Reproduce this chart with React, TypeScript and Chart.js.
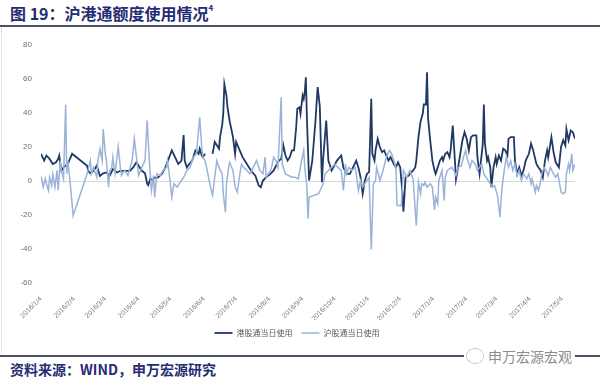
import React, { useEffect, useRef } from 'react';
import { Chart, registerables } from 'chart.js';

Chart.register(...registerables);

// x axis: days since 2016/1/4
const tickDays = [0, 31, 60, 91, 121, 152, 182, 213, 244, 274, 305, 335, 366, 397, 425, 456, 486];
const tickLabels = [
  '2016/1/4', '2016/2/4', '2016/3/4', '2016/4/4', '2016/5/4', '2016/6/4', '2016/7/4', '2016/8/4',
  '2016/9/4', '2016/10/4', '2016/11/4', '2016/12/4', '2017/1/4', '2017/2/4', '2017/3/4', '2017/4/4', '2017/5/4',
];
const lastDay = 498;

const hkLabel = '港股通当日使用';
const shLabel = '沪股通当日使用';

const hkDays = [
  0, 3, 5, 8, 11, 14, 16, 17, 18, 19,
  21, 25, 29, 43, 44, 46, 49, 52, 55, 58,
  61, 64, 67, 71, 74, 77, 80, 83, 86, 89,
  91, 94, 97, 99, 100, 102, 104, 106, 109, 113,
  116, 119, 122, 125, 128, 131, 133, 134, 136, 137,
  141, 144, 147, 148, 150, 151, 153, 156, 160, 162,
  164, 166, 167, 169, 170, 171, 173, 174, 176, 179,
  181, 182, 184, 186, 188, 190, 193, 196, 200, 203,
  205, 207, 210, 214, 217, 220, 222, 224, 226, 228,
  230, 232, 234, 236, 238, 239, 241, 242, 244, 245,
  246, 247, 248, 250, 253, 256, 258, 260, 262, 263,
  266, 268, 271, 276, 280, 282, 285, 288, 291, 294,
  296, 298, 300, 302, 304, 306, 308, 309, 311, 312,
  314, 316, 318, 320, 322, 324, 326, 329, 331, 333,
  335, 337, 338, 340, 343, 344, 347, 349, 350, 352,
  354, 356, 357, 359, 360, 361, 363, 365, 367, 368,
  370, 372, 374, 375, 377, 379, 381, 382, 384, 386,
  387, 389, 391, 393, 395, 397, 399, 401, 403, 406,
  407, 409, 411, 412, 413, 414, 416, 417, 419, 420,
  422, 424, 425, 427, 429, 431, 433, 435, 436, 438,
  441, 442, 444, 446, 448, 450, 452, 455, 457, 459,
  462, 464, 466, 468, 470, 472, 473, 475, 476, 478,
  480, 483, 485, 487, 489, 490, 492, 494, 496, 498,
];
const hkValues = [
  16, 12, 15, 13, 10, 11, 13, 15, 10, 6,
  8, 10, 16, 9, 6, 4.5, 6, 9, 3, 4.5,
  5, 3, 7, 5, 6, 6, 6, 6, 8, 11,
  9, 6, 4.5, -1.5, -2.5, 1.5, 0.5, 2, 2, 4.5,
  8, 13, 18, 14, 10, 12, 27, 12, 8, 9,
  12, 18, 16, 19, 15, 14, 16, null, 16, 23,
  21, 19, 26, 33, 40, 57, 50, 43, 35, 26,
  16, 23, 20, 17, 14, 12, 9, 6, 3, -2.6,
  -3.6, 0.3, 2.2, 4.2, 6.2, 10, 12, 13, 21, 15,
  12, 14, 18, 18, 31.6, 42.5, 43.4, 39.5, 50.3, 48.3,
  52.2, 61, 36.6, 0.3, 12, 35.6, 55.2, 44, -0.7, 12,
  35.6, 12, 6.2, 12, 15, 8, 4.2, 4.2, 8, 12,
  8, 2.2, -7.5, 0.3, 4.2, 5.2, 48.3, 16, 12, 18,
  24.8, 20, 17, 18, 15, 12, 14, 10, 8, 11,
  8, -6.5, -18, 2.2, 3.2, 4.2, 6.2, 8, 12, 25.8,
  35, 39.5, 45, 45, 64, 36.6, 23.8, 12, 6.2, 4.2,
  8, 12, 14, 12, 16, 17, 14, 18, 32.6, 12,
  1, 8, 16, 23.8, 28.7, 24.8, 18, 25.8, 26.8, 26.8,
  14, 4.2, 16, 22, 45, 22, 12, 14, 8, -3.6,
  8, 14, 10, 15, 12, 19, 18, 15, 24.8, 25.8,
  25.8, 12, 4.2, 8, 3.2, 6.2, 12, 16, 22, 18,
  10, 8, 6.2, 2.2, 12, 18, 14, 22, 25.8, 17,
  11, 8, 20, 24, 21, 30.6, 24, 29.7, 28.7, 24.8,
];

const shDays = [
  0, 2, 4, 5, 7, 8, 10, 11, 13, 15,
  16, 18, 19, 21, 23, 24, 25, 27, 30, 43,
  46, 47, 49, 52, 53, 55, 57, 58, 60, 61,
  63, 64, 66, 67, 69, 72, 74, 75, 78, 81,
  85, 87, 89, 91, 94, 97, 99, 101, 103, 105,
  106, 108, 111, 114, 117, 118, 120, 122, 124, 127,
  130, 133, 136, 139, 142, 145, 148, 150, 151, 153,
  155, 158, 160, 162, 164, 166, 169, 170, 172, 173,
  175, 176, 179, 181, 183, 186, 187, 189, 192, 195,
  198, 201, 204, 207, 209, 210, 214, 215, 217, 219,
  221, 224, 225, 228, 231, 234, 237, 240, 243, 245,
  246, 248, 249, 250, 259, 263, 265, 268, 271, 274,
  277, 280, 282, 284, 285, 287, 290, 293, 294, 296,
  298, 300, 302, 304, 306, 308, 310, 312, 313, 315,
  316, 319, 322, 325, 327, 329, 331, 332, 336, 338,
  341, 344, 347, 350, 352, 354, 355, 357, 358, 360,
  363, 365, 367, 368, 370, 371, 374, 376, 377, 379,
  381, 383, 385, 387, 389, 392, 394, 396, 398, 400,
  402, 405, 407, 409, 411, 413, 415, 417, 419, 421,
  423, 426, 428, 429, 430, 432, 434, 436, 438, 440,
  442, 444, 446, 448, 450, 453, 455, 457, 458, 461,
  462, 464, 466, 467, 469, 471, 473, 475, 478, 480,
  482, 485, 487, 489, 490, 492, 493, 495, 496, 498,
];
const shValues = [
  3.2, -3.6, 1.3, -1.6, -5.6, 2.2, -2.6, 4, -3.6, 6.2,
  -5.6, 12, 6.2, 1.3, 44.8, 4.2, 12, 0.3, -20.3, 4.2,
  12, 4.2, 8, 2.2, 12, 18.9, 12, 30.6, 16, 12,
  -3.6, 6.2, 8, 14, 4.2, 20, 8, 3.2, 6.2, 3.2,
  12, 24.8, 14, 3.2, 8, 12, 35.6, 12, -5.6, 3.2,
  -9.5, 4.2, 3.2, 6.2, 8, 12, 2, -9.5, -1.6, -3.6,
  -0.7, 2.2, 6.2, 8, 14, 16, 37.5, 19, 14, 12,
  6.2, -3.6, -8.5, 2.2, 12, 8, 4.2, -7.5, -18.4, -1.6,
  8, 11, 6.2, -3.6, -6.5, 6.2, 10, 8, 6.2, 4.2,
  8, 12, 6.2, 4.2, 14, 2.2, 6.2, 8, 14, 12,
  8, 49.3, 10, 4.2, 3.2, 2.2, 2.2, 1.3, 12, 18,
  8, -3.6, -22.2, -9.5, -7.5, -1.6, 4.2, 6.2, 8, 10,
  8, 6.2, -5.6, 10, 4.2, 8, 6.2, 8, 4.2, -5.6,
  0.3, -3.6, -1.6, 0.3, 2.2, -40.3, -1.6, 0.3, 8, 3.2,
  0.3, 6.2, 14, 18, 16, 12, 8, -14.4, -14.4, 6.2,
  2.2, 6.2, 1.3, -26.2, -0.7, -7.5, -1.6, -2.6, -0.7, -3.6,
  -1.6, -3.6, -17, -9.5, -13.4, 0.3, 6.2, -11.5, 2.2, 6.2,
  7.1, 8, 6.2, 3.2, 8, 9, 14, 18, 12, 8,
  12, 10, 6.2, 8, 10, 4.2, 2.2, 0.3, -1.6, -3.6,
  -2.6, -9.5, -21.3, -11.5, -3.6, 6.2, 14, 8, 12, 6.2,
  10, 3.2, 6.2, 0.3, 4.2, 1.3, 4.2, -1.6, 1.3, -6.5,
  -2.6, -5.6, 0.3, 4.2, 8, 6.2, 3.2, 8, 4.2, 2.2,
  4.2, -6.5, -7.5, -6.5, 4.2, 10, 6.2, 16, 6.2, 10,
];

const titleText = '图 19：沪港通额度使用情况';
const titleNote = '4';
const sourceText = '资料来源：WIND，申万宏源研究';
const watermarkText = '申万宏源宏观';

export default function App() {
  const canvasRef = useRef<HTMLCanvasElement>(null);

  useEffect(() => {
    document.body.style.margin = '0';
    const canvas = canvasRef.current;
    if (!canvas) return;
    const chart = new Chart(canvas, {
      type: 'line',
      data: {
        datasets: [
          {
            label: hkLabel,
            data: hkDays.map((d, i) => ({ x: d, y: hkValues[i] })),
            borderColor: '#1F3864',
            backgroundColor: '#1F3864',
            borderWidth: 1.8,
            pointRadius: 0,
            tension: 0,
            spanGaps: false,
            order: 2,
          },
          {
            label: shLabel,
            data: shDays.map((d, i) => ({ x: d, y: shValues[i] })),
            borderColor: '#9AB3D8',
            backgroundColor: '#9AB3D8',
            borderWidth: 1.5,
            pointRadius: 0,
            tension: 0,
            order: 1,
          },
        ],
      } as any,
      options: {
        animation: false,
        responsive: false,
        devicePixelRatio: 1,
        layout: { padding: { left: 19, right: 25, top: 15, bottom: 3 } },
        plugins: {
          tooltip: { enabled: false },
          legend: {
            position: 'bottom',
            labels: {
              usePointStyle: true,
              pointStyle: 'line',
              pointStyleWidth: 18,
              boxHeight: 8,
              padding: 9,
              color: '#595959',
              font: { size: 8, family: '"Noto Sans CJK SC", sans-serif' },
              sort: (a: any, b: any) => a.datasetIndex - b.datasetIndex,
            },
          },
        },
        scales: {
          x: {
            type: 'linear',
            min: 0,
            max: lastDay,
            grid: { display: false },
            border: { display: false },
            afterBuildTicks: (axis: any) => {
              axis.ticks = tickDays.map((v) => ({ value: v }));
            },
            afterFit: (axis: any) => {
              axis.height = 37;
            },
            ticks: {
              autoSkip: false,
              maxRotation: 45,
              minRotation: 45,
              padding: 4,
              color: '#7f7f7f',
              font: { size: 7, family: '"Liberation Sans", Arial, sans-serif' },
              callback: (v: any) => {
                const i = tickDays.indexOf(Number(v));
                return i >= 0 ? tickLabels[i] : '';
              },
            },
          },
          y: {
            min: -60,
            max: 80,
            afterFit: (axis: any) => {
              axis.width = 22;
            },
            border: { display: false },
            grid: {
              drawTicks: false,
              color: (ctx: any) => (ctx.tick && ctx.tick.value === 0 ? '#d9d9d9' : 'rgba(0,0,0,0)'),
              lineWidth: 1,
            },
            ticks: {
              stepSize: 20,
              padding: 9,
              color: '#6f6f6f',
              font: { size: 8, family: '"Liberation Sans", Arial, sans-serif' },
            },
          },
        },
      } as any,
    });
    return () => chart.destroy();
  }, []);

  return (
    <div
      style={{
        position: 'fixed',
        left: 0,
        top: 0,
        width: 600,
        height: 385,
        background: '#ffffff',
        overflow: 'hidden',
        fontFamily: '"Noto Sans CJK SC", sans-serif',
      }}
    >
      <div
        style={{
          position: 'absolute',
          left: 10,
          top: 3,
          fontSize: 16,
          lineHeight: '20px',
          fontWeight: 700,
          color: '#262C73',
          whiteSpace: 'nowrap',
        }}
      >
        {titleText}
        <sup style={{ fontSize: 8, verticalAlign: 'top', lineHeight: '10px' }}>{titleNote}</sup>
      </div>
      <div style={{ position: 'absolute', left: 0, top: 25, width: 600, height: 2, background: '#4d5068' }} />
      <div
        style={{
          position: 'absolute',
          left: 1,
          top: 28,
          height: 326,
          borderLeft: '1px dotted #c8c8c8',
        }}
      />
      <canvas
        ref={canvasRef}
        width={600}
        height={320}
        style={{ position: 'absolute', left: 0, top: 30, width: 600, height: 320 }}
      />
      <div style={{ position: 'absolute', left: 0, top: 355, width: 600, height: 2, background: '#4d5068' }} />
      <div
        style={{
          position: 'absolute',
          left: 464,
          top: 346,
          height: 20,
          paddingLeft: 2,
          paddingRight: 3,
          background: '#ffffff',
          display: 'flex',
          alignItems: 'center',
          gap: 4,
        }}
      >
        <div
          style={{
            width: 16,
            height: 14,
            borderRadius: '50%',
            border: '1px dotted #9a9a9a',
          }}
        />
        <span style={{ fontSize: 14, color: '#8c8c8c', lineHeight: '20px', whiteSpace: 'nowrap' }}>{watermarkText}</span>
      </div>
      <div
        style={{
          position: 'absolute',
          left: 10,
          top: 360,
          fontSize: 14,
          lineHeight: '18px',
          fontWeight: 700,
          color: '#262C73',
          whiteSpace: 'nowrap',
        }}
      >
        {sourceText}
      </div>
    </div>
  );
}
